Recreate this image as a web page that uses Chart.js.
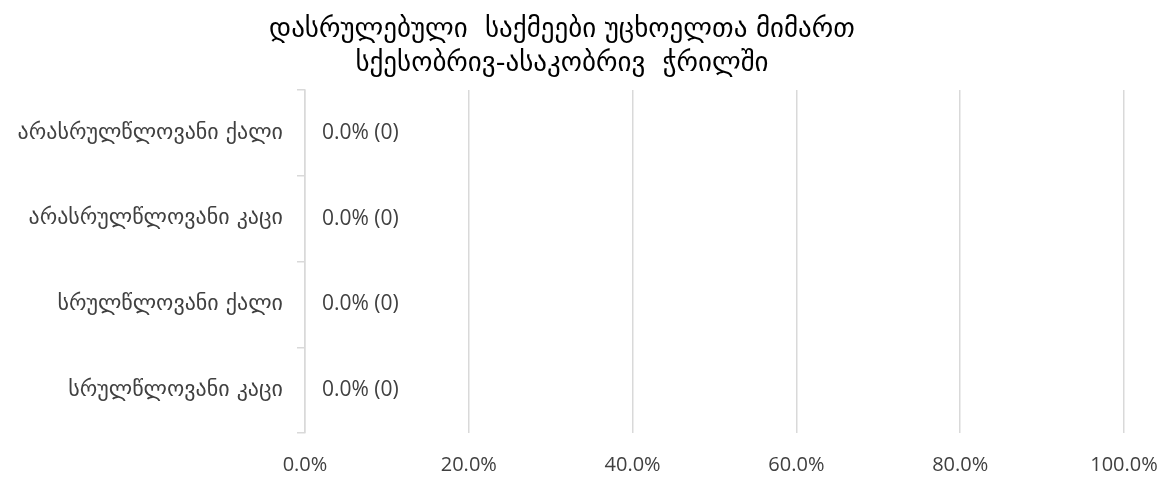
<!DOCTYPE html>
<html>
<head>
<meta charset="utf-8">
<script src="https://cdn.jsdelivr.net/npm/chart.js@4"></script>
<style>
  html, body { margin: 0; padding: 0; background: #fff; }
  #wrap { width: 1169px; height: 477px; position: relative; }
</style>
</head>
<body>
<div id="wrap"><canvas id="chart"></canvas></div>
<script>
// data
const TITLE_LINES = ['დასრულებული  საქმეები უცხოელთა მიმართ', 'სქესობრივ-ასაკობრივ  ჭრილში'];
const CATEGORIES = ['არასრულწლოვანი ქალი', 'არასრულწლოვანი კაცი', 'სრულწლოვანი ქალი', 'სრულწლოვანი კაცი'];
const SHARES = [0, 0, 0, 0];   // percent
const COUNTS = [0, 0, 0, 0];
const X_MIN = 0, X_MAX = 100, X_STEP = 20;

const GRID = '#d9d9d9';
const TEXT = '#404040';
const LABEL_FONT = "'Open Sans', 'DejaVu Sans', sans-serif";
const GEO_FONT = "'DejaVu Sans', sans-serif";

// title sits a bit left of the canvas centre in the original, so draw it by hand
const offsetTitle = {
  id: 'offsetTitle',
  afterDraw(chart) {
    const ctx = chart.ctx;
    ctx.save();
    ctx.font = '27px ' + GEO_FONT;
    ctx.fillStyle = '#000';
    ctx.textAlign = 'center';
    ctx.textBaseline = 'middle';
    TITLE_LINES.forEach((line, i) => ctx.fillText(line, 562, 30 + i * 34));
    ctx.restore();
  },
};

// draws "0.0% (0)" next to each bar
const valueLabels = {
  id: 'valueLabels',
  afterDatasetsDraw(chart) {
    const ctx = chart.ctx;
    const meta = chart.getDatasetMeta(0);
    ctx.save();
    ctx.font = '21px ' + LABEL_FONT;
    ctx.fillStyle = TEXT;
    ctx.textAlign = 'left';
    ctx.textBaseline = 'middle';
    meta.data.forEach((bar, i) => {
      const txt = SHARES[i].toFixed(1) + '% (' + COUNTS[i] + ')';
      ctx.fillText(txt, bar.x + 17, bar.y);
    });
    ctx.restore();
  },
};

new Chart(document.getElementById('chart'), {
  type: 'bar',
  data: {
    labels: CATEGORIES,
    datasets: [{
      data: SHARES,
      backgroundColor: '#4472c4',
      barPercentage: 0.6,
      categoryPercentage: 1,
    }],
  },
  options: {
    indexAxis: 'y',
    responsive: true,
    maintainAspectRatio: false,
    animation: false,
    layout: { padding: { left: 0, right: 0, top: 90, bottom: 0 } },
    plugins: {
      legend: { display: false },
      tooltip: { enabled: false },
      title: { display: false },
    },
    scales: {
      x: {
        min: X_MIN,
        max: X_MAX,
        ticks: {
          stepSize: X_STEP,
          color: TEXT,
          font: { family: LABEL_FONT, size: 20 },
          padding: 20,
          callback: v => v.toFixed(1) + '%',
        },
        grid: { color: GRID, lineWidth: 1.5, drawTicks: false },
        border: { display: false },
        afterFit(scale) { scale.height = 44; scale.paddingRight = 45; },
      },
      y: {
        ticks: {
          color: TEXT,
          font: { family: GEO_FONT, size: 22 },
          padding: 14,
        },
        grid: { color: GRID, lineWidth: 1.5, drawOnChartArea: false, drawTicks: true, tickLength: 8, offset: true },
        border: { display: true, color: GRID, width: 1.5 },
        afterFit(scale) { scale.width = 305; },
      },
    },
  },
  plugins: [valueLabels, offsetTitle],
});
</script>
</body>
</html>
